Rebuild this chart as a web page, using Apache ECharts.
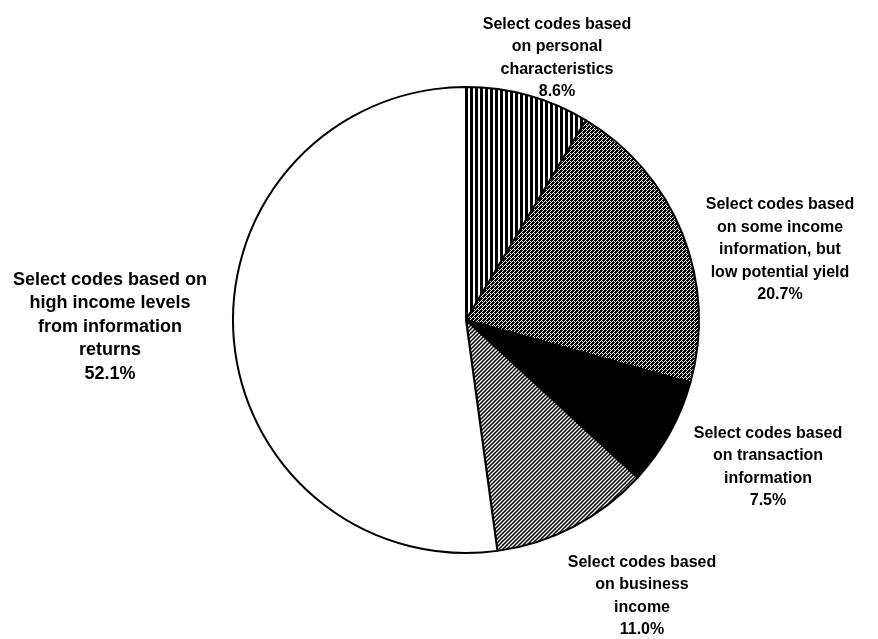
<!DOCTYPE html>
<html>
<head>
<meta charset="utf-8">
<script src="https://cdn.jsdelivr.net/npm/echarts@6/dist/echarts.min.js"></script>
<style>
  html, body { margin: 0; padding: 0; background: #fff; }
  #pieChart { width: 878px; height: 639px; }
</style>
</head>
<body>
<div id="pieChart"></div>
<script>
// slice labels, clockwise from 12 o'clock
const categories = [
  "Select codes based\non personal\ncharacteristics",
  "Select codes based\non some income\ninformation, but\nlow potential yield",
  "Select codes based\non transaction\ninformation",
  "Select codes based\non business\nincome",
  "Select codes based on\nhigh income levels\nfrom information\nreturns"
];
const shares = [8.6, 20.7, 7.5, 11.0, 52.1];

// where each label block sits (centre of the text block)
const labelPos = [[557, 58], [780, 250], [768, 467], [642, 596], [110, 327]];
const labelSize = [16, 16, 16, 16, 18];

function makePattern(w, h, draw) {
  const c = document.createElement("canvas");
  c.width = w;
  c.height = h;
  const ctx = c.getContext("2d");
  ctx.fillStyle = "#fff";
  ctx.fillRect(0, 0, w, h);
  ctx.fillStyle = "#000";
  draw(ctx);
  return { image: c, repeat: "repeat" };
}

// vertical stripes
const stripes = makePattern(5, 5, ctx => {
  ctx.fillRect(0, 0, 3, 5);
});

// dark grey stipple (dither)
const stipple = makePattern(4, 4, ctx => {
  const dots = [
    [0, 0], [2, 0], [3, 0], [1, 1], [3, 1], [0, 2], [1, 2], [2, 2],
    [1, 3], [3, 3], [0, 3]
  ];
  dots.forEach(d => ctx.fillRect(d[0], d[1], 1, 1));
});

// diagonal hatch "/"
const hatch = makePattern(4, 4, ctx => {
  ctx.strokeStyle = "#000";
  ctx.lineWidth = 1.5;
  ctx.beginPath();
  ctx.moveTo(-1, 5); ctx.lineTo(5, -1);
  ctx.moveTo(-1, 1); ctx.lineTo(1, -1);
  ctx.moveTo(3, 5); ctx.lineTo(5, 3);
  ctx.stroke();
});

const fills = [stripes, stipple, "#000", hatch, "#fff"];

let pieChart = echarts.init(document.getElementById("pieChart"));
pieChart.setOption({
  backgroundColor: "#fff",
  animation: false,
  series: [
    {
      type: "pie",
      center: [466, 320],
      radius: 233,
      startAngle: 90,
      clockwise: true,
      data: categories.map((name, i) => ({
        name: name,
        value: shares[i],
        itemStyle: { color: fills[i] },
        label: { fontSize: labelSize[i], lineHeight: labelSize[i] === 18 ? 23.5 : 22.5 }
      })),
      itemStyle: {
        borderColor: "#000",
        borderWidth: 2
      },
      label: {
        show: true,
        position: "outside",
        formatter: p => p.name + "\n" + p.value.toFixed(1) + "%",
        fontFamily: "'Liberation Sans', Arial, sans-serif",
        fontWeight: "bold",
        color: "#000",
        align: "center",
        overflow: "none",
        width: 300
      },
      labelLine: { show: false },
      labelLayout: params => {
        const p = labelPos[params.dataIndex];
        return { x: p[0], y: p[1], align: "center", verticalAlign: "middle" };
      },
      emphasis: { disabled: true }
    }
  ]
});
window.addEventListener("resize", () => {
  pieChart.resize();
});
</script>
</body>
</html>
